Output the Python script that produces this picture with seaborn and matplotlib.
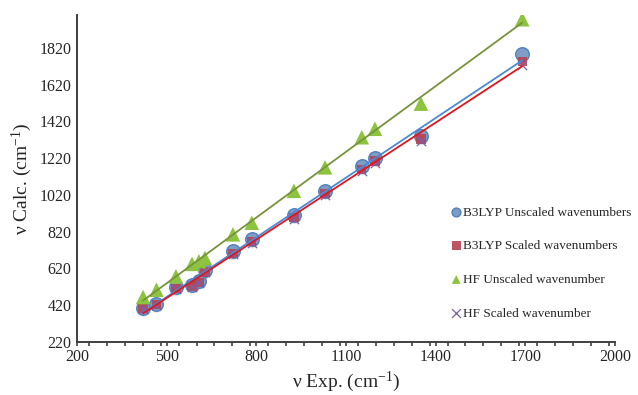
import numpy as np
import pandas as pd
import matplotlib
matplotlib.use("Agg")
import matplotlib.pyplot as plt
import seaborn as sns
from matplotlib.ticker import MultipleLocator, FixedLocator

x_exp = [421, 466, 531, 585, 608, 628, 722, 785, 926, 1030, 1153, 1197, 1351, 1690]
b3lyp_unscaled = [406, 427, 516, 531, 553, 609, 713, 777, 910, 1042, 1175, 1221, 1340, 1787]
b3lyp_scaled = [400, 421, 508, 523, 544, 600, 702, 765, 896, 1026, 1158, 1204, 1325, 1745]
hf_unscaled = [463, 503, 576, 644, 658, 676, 805, 868, 1042, 1170, 1334, 1380, 1517, 1977]
hf_scaled = [398, 419, 505, 520, 541, 597, 698, 760, 890, 1020, 1150, 1195, 1315, 1727]

labels = ["B3LYP Unscaled wavenumbers", "B3LYP Scaled wavenumbers",
          "HF Unscaled wavenumber", "HF Scaled wavenumber"]

sns.set_theme(style="white")
plt.rcParams['font.family'] = ['Liberation Serif', 'DejaVu Serif']
plt.rcParams['mathtext.default'] = 'regular'

fig = plt.figure(figsize=(6.38, 3.95), dpi=100)
ax = fig.add_axes([0.1207, 0.135, 0.843, 0.827])

df = pd.DataFrame({"x": x_exp, "b3u": b3lyp_unscaled, "b3s": b3lyp_scaled,
                   "hfu": hf_unscaled, "hfs": hf_scaled})

# shadows for circles
sns.scatterplot(x=df["x"] + 1.5, y=df["b3u"] - 12, ax=ax, s=95, color="#bfbfbf",
                alpha=0.5, edgecolor="none", legend=False, zorder=1)
sns.scatterplot(data=df, x="x", y="b3u", ax=ax, s=95, color="#7f9dc6",
                edgecolor="#4f81bd", linewidth=1.0, label=labels[0], zorder=2)
sns.scatterplot(data=df, x="x", y="b3s", ax=ax, s=45, marker="s", color="#b5434f",
                edgecolor="none", alpha=0.9, label=labels[1], zorder=3)
sns.scatterplot(data=df, x="x", y="hfu", ax=ax, s=110, marker="^", color="#8cc43f",
                edgecolor="none", label=labels[2], zorder=3)
sns.scatterplot(data=df, x="x", y="hfs", ax=ax, s=45, marker="x", color="#7b5fa6",
                linewidth=0.9, label=labels[3], zorder=4)

sns.regplot(data=df, x="x", y="hfu", ax=ax, scatter=False, ci=None, truncate=True,
            line_kws=dict(color="#77933c", lw=1.3, zorder=5))
sns.regplot(data=df, x="x", y="b3u", ax=ax, scatter=False, ci=None, truncate=True,
            line_kws=dict(color="#4a8ad6", lw=1.3, zorder=5))
sns.regplot(data=df, x="x", y="b3s", ax=ax, scatter=False, ci=None, truncate=True,
            line_kws=dict(color="#e3151c", lw=1.3, zorder=6))

ax.set_xlim(200, 2000)
ax.set_ylim(220, 2000)
ax.xaxis.set_major_locator(FixedLocator([200, 500, 800, 1100, 1400, 1700, 2000]))
ax.xaxis.set_minor_locator(MultipleLocator(60))
ax.yaxis.set_major_locator(FixedLocator([220, 420, 620, 820, 1020, 1220, 1420, 1620, 1820]))

for s in ["top", "right"]:
    ax.spines[s].set_visible(False)
for s in ["left", "bottom"]:
    ax.spines[s].set_color("#404040")
    ax.spines[s].set_linewidth(1.4)

ax.tick_params(axis="x", which="both", direction="out", length=3, width=1.2,
               color="#404040", labelsize=11.5, pad=2, bottom=True)
ax.tick_params(axis="y", length=0, labelsize=11.5, pad=4)

ax.set_xlabel(r"ν Exp. (cm$^{-1}$)", fontsize=14, labelpad=4)
ax.set_ylabel(r"ν Calc. (cm$^{-1}$)", fontsize=14, labelpad=4)

leg = ax.legend(loc="upper left", bbox_to_anchor=(0.683, 0.43), frameon=False,
                fontsize=9.5, labelspacing=1.62, handletextpad=0.0,
                handlelength=1.0, borderaxespad=0)
for h in leg.legend_handles:
    try:
        h.set_sizes([40])
    except Exception:
        pass

fig.savefig("out.png", dpi=100)
